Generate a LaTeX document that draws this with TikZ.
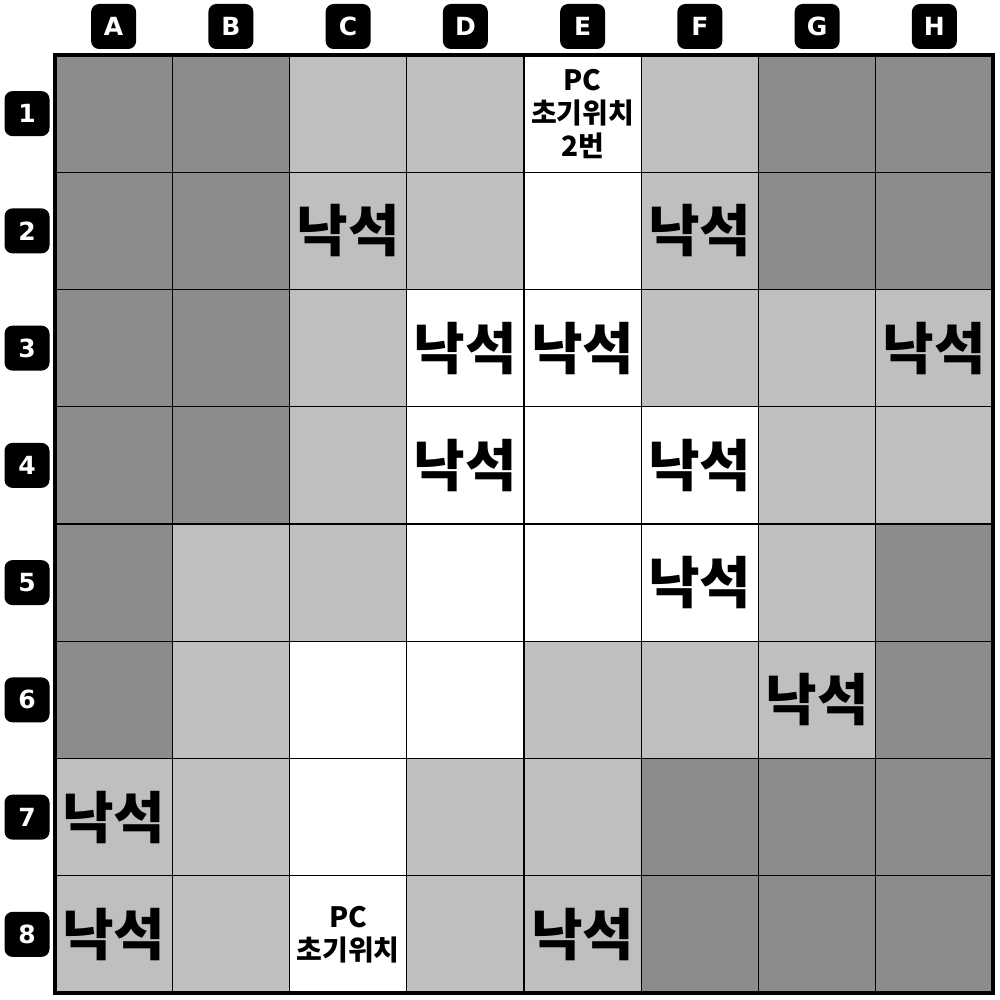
\documentclass[tikz,border=0pt]{standalone}
\usepackage{fontspec}
\setmainfont{DejaVu Sans}
\newfontfamily\kr{Noto Sans CJK KR}
\definecolor{colD}{HTML}{8C8C8C}
\definecolor{colL}{HTML}{BFBFBF}
\definecolor{colW}{HTML}{FFFFFF}
\begin{document}
\begin{tikzpicture}[x=1pt,y=-1pt,
  cell/.style={draw=black, line width=1.2pt, minimum size=117.25pt, inner sep=0pt, outer sep=0pt},
  hdr/.style={fill=black, text=white, rounded corners=8pt, minimum size=45pt, inner sep=0pt,
    font=\bfseries\fontsize{25}{25}\selectfont},
  stone/.style={font=\kr\bfseries\fontsize{56}{56}\selectfont, inner sep=0pt},
  pcinfo/.style={font=\kr\bfseries\fontsize{28}{33}\selectfont, align=center, inner sep=0pt}]
\useasboundingbox (0,0) rectangle (1000,1000);
\def\W{117.25}
\foreach \row [count=\r] in {{D,D,L,L,W,L,D,D},{D,D,L,L,W,L,D,D},{D,D,L,W,W,L,L,L},{D,D,L,W,W,W,L,L},{D,L,L,W,W,W,L,D},{D,L,W,W,L,L,L,D},{L,L,W,L,L,D,D,D},{L,L,W,L,L,D,D,D}} {
  \foreach \c [count=\k] in \row {
    \node[cell, fill=col\c] (cell-\k-\r) at ({55+(\k-0.5)*\W},{55+(\r-0.5)*\W}) {};
  }
}
\draw[line width=4pt] (cell-1-1.north west) rectangle (cell-8-8.south east);
\foreach \L [count=\k] in {A,B,C,D,E,F,G,H} {
  \node[hdr] (h-\k) at ({55+(\k-0.5)*\W},26.5) {\L};
}
\foreach \r in {1,...,8} {
  \node[hdr] (r-\r) at (27,{55+(\r-0.5)*\W}) {\r};
}
\foreach \k/\r in {3/2,6/2,4/3,5/3,8/3,4/4,6/4,6/5,7/6,1/7,1/8,5/8} {
  \node[stone] (s-\k-\r) at (cell-\k-\r.center) {낙석};
}
\node[pcinfo] (pc2) at (cell-5-1.center) {PC\\초기위치\\2번};
\node[pcinfo] (pc1) at (cell-3-8.center) {PC\\초기위치};
\end{tikzpicture}
\end{document}
